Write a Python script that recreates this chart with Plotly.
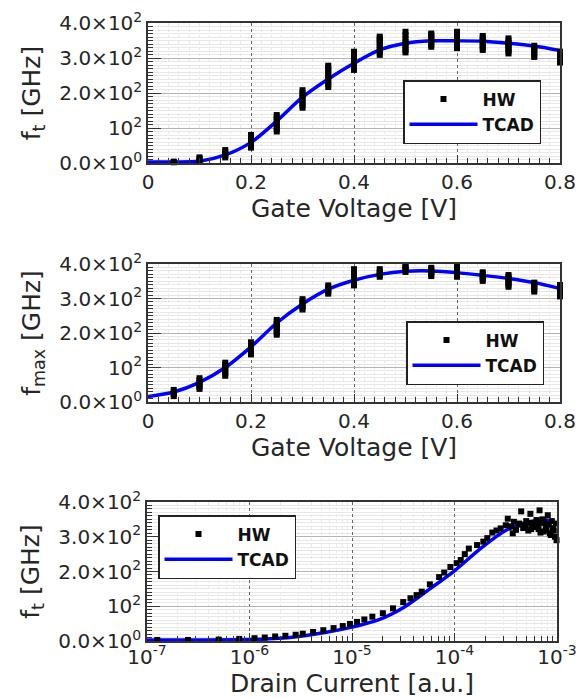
import plotly.graph_objects as go

# ---------------- data ----------------
# Panel 1: f_t vs gate voltage
VG = [0.0, 0.05, 0.1, 0.15, 0.2, 0.25, 0.3, 0.35, 0.4, 0.45, 0.5, 0.55, 0.6, 0.65, 0.7, 0.75, 0.8]
FT_TCAD = [3, 3, 5, 23, 59, 120, 188, 240, 285, 323, 342, 349, 349, 348, 342, 334, 321]
HW_VG = [0.05, 0.1, 0.15, 0.2, 0.25, 0.3, 0.35, 0.4, 0.45, 0.5, 0.55, 0.6, 0.65, 0.7, 0.75, 0.8]
FT_HW = [
    [2, 4],
    [4, 8, 12, 16],
    [16, 21, 26, 31, 37],
    [44, 50, 56, 62, 68, 74, 80],
    [90, 97, 104, 111, 118, 125, 131, 137],
    [158, 165, 172, 179, 186, 193, 200, 208],
    [217, 225, 233, 241, 249, 257, 265, 272, 278],
    [266, 273, 280, 287, 294, 301, 308, 313, 318],
    [309, 316, 323, 330, 337, 344, 351, 356, 361],
    [316, 323, 331, 338, 346, 355, 366, 375],
    [332, 338, 344, 350, 356, 362, 366, 370],
    [328, 334, 340, 346, 352, 358, 364, 375],
    [323, 329, 335, 341, 347, 353, 358, 363],
    [313, 319, 325, 331, 337, 343, 349, 356],
    [303, 309, 315, 321, 327, 331, 335],
    [287, 293, 299, 305, 311, 315, 318],
]

# Panel 2: f_max vs gate voltage
FMAX_TCAD = [16, 29, 57, 100, 160, 229, 284, 327, 353, 370, 379, 380, 375, 367, 358, 346, 329]
FMAX_HW = [
    [17, 23, 29, 35],
    [38, 44, 50, 56, 63, 69],
    [76, 82, 88, 95, 101, 108, 114],
    [138, 144, 150, 156, 162, 168, 173],
    [195, 201, 207, 213, 219, 225, 232, 238],
    [268, 274, 280, 286, 292, 298],
    [314, 320, 326, 332, 338],
    [338, 344, 350, 356, 362, 368, 374, 385],
    [363, 368, 373, 378, 385],
    [377, 382, 387, 392, 397],
    [365, 370, 375, 380, 385, 389],
    [363, 369, 375, 381, 387, 392, 397],
    [351, 356, 361, 366, 371, 376],
    [334, 340, 346, 352, 358, 363, 368],
    [320, 326, 332, 338, 343, 346],
    [306, 312, 318, 324, 330, 335, 339],
]

# Panel 3: f_t vs drain current
ID_TCAD = [1e-7, 3.16e-7, 1e-6, 1.78e-6, 3.16e-6, 5.62e-6, 1e-5, 1.78e-5, 3.16e-5,
           5.62e-5, 1e-4, 1.78e-4, 3.16e-4, 5.62e-4, 7.94e-4, 1e-3]
FT_ID_TCAD = [3, 3, 4, 7, 14, 25, 40, 60, 96, 148, 202, 265, 318, 344, 348, 335]
ID_HW = [1.26e-7, 2.51e-7, 5.01e-7, 7.94e-7, 1.12e-6, 1.41e-6, 1.78e-6, 2.24e-6, 2.82e-6,
         3.31e-6, 4.17e-6, 5.25e-6, 6.61e-6, 8.13e-6, 9.55e-6, 1.12e-5, 1.32e-5, 1.58e-5,
         2.0e-5, 2.51e-5, 3.16e-5, 3.72e-5, 4.27e-5, 4.79e-5, 5.75e-5, 7.08e-5, 7.94e-5,
         9.12e-5, 1.05e-4, 1.15e-4, 1.26e-4, 1.38e-4, 1.66e-4, 1.91e-4, 2.09e-4, 2.34e-4,
         2.57e-4, 2.82e-4, 3.16e-4, 3.31e-4, 3.55e-4, 3.80e-4, 3.98e-4, 4.27e-4, 4.47e-4,
         4.68e-4, 5.01e-4, 5.25e-4, 5.50e-4, 5.75e-4, 6.03e-4, 6.31e-4, 6.61e-4, 6.76e-4,
         7.08e-4, 7.41e-4, 7.76e-4, 8.13e-4, 8.51e-4, 8.91e-4, 9.12e-4, 9.55e-4, 9.77e-4,
         1.0e-3, 4.9e-4, 5.6e-4, 6.2e-4, 6.9e-4, 7.2e-4, 7.9e-4, 8.3e-4, 8.7e-4, 9.3e-4,
         9.9e-4, 3.7e-4, 4.4e-4, 5.4e-4, 6.5e-4, 7.5e-4]
FT_ID_HW = [3, 3, 4, 6, 8, 10, 13, 15, 18,
            21, 26, 31, 37, 43, 49, 55, 62, 70,
            80, 94, 112, 123, 132, 142, 163, 184, 197,
            213, 224, 233, 250, 266, 276, 286, 296, 312,
            318, 324, 333, 352, 330, 343, 320, 338, 373,
            325, 345, 318, 366, 335, 328, 348, 322, 376,
            340, 315, 330, 362, 310, 345, 325, 300, 338,
            295, 330, 322, 340, 312, 350, 320, 335, 305, 318,
            290, 310, 335, 340, 332, 342]

Y_TICKS = [0, 100, 200, 300, 400]
Y_TICKTEXT = ["0.0×10<sup>0</sup>", "10<sup>2</sup>", "2.0×10<sup>2</sup>",
              "3.0×10<sup>2</sup>", "4.0×10<sup>2</sup>"]
VG_TICKS = [0, 0.2, 0.4, 0.6, 0.8]
VG_TICKTEXT = ["0", "0.2", "0.4", "0.6", "0.8"]
ID_TICKS = [1e-7, 1e-6, 1e-5, 1e-4, 1e-3]
ID_TICKTEXT = ["10<sup>-7</sup>", "10<sup>-6</sup>", "10<sup>-5</sup>",
               "10<sup>-4</sup>", "10<sup>-3</sup>"]

# ---------------- figure ----------------
W, H = 577, 698
FONT = "DejaVu Sans"
TXT = "#262626"
AX = "#333333"
BLUE = "#0000ff"
TICK_SIZE = 20
TITLE_SIZE = 25


def flat(xs, groups):
    fx, fy = [], []
    for x, g in zip(xs, groups):
        for v in g:
            fx.append(x)
            fy.append(v)
    return fx, fy


fig = go.Figure()


def add_panel(n, xt, yt, xh, yh):
    sfx = "" if n == 1 else str(n)
    leg = "legend" if n == 1 else "legend" + str(n)
    fig.add_trace(go.Scatter(x=xt, y=yt, mode="lines", name="<b>TCAD</b>",
                             line=dict(color=BLUE, width=3.5, shape="spline", smoothing=0.8),
                             xaxis="x" + sfx, yaxis="y" + sfx, legend=leg, legendrank=2,
                             legendgroup="t%d" % n))
    fig.add_trace(go.Scatter(x=xh, y=yh, mode="markers", name="<b>HW</b>",
                             marker=dict(symbol="square", size=6, color="black", line=dict(width=0)),
                             xaxis="x" + sfx, yaxis="y" + sfx, legend=leg, legendrank=1,
                             legendgroup="h%d" % n, cliponaxis=False))


x1, y1 = flat(HW_VG, FT_HW)
x2, y2 = flat(HW_VG, FMAX_HW)
add_panel(1, VG, FT_TCAD, x1, y1)
add_panel(2, VG, FMAX_TCAD, x2, y2)
add_panel(3, ID_TCAD, FT_ID_TCAD, ID_HW, FT_ID_HW)


def px_dom_x(a, b):
    return [a / W, b / W]


def px_dom_y(top, bot):
    return [1 - bot / H, 1 - top / H]


def yaxis(dom, title):
    return dict(domain=dom, range=[0, 400], tickmode="array", tickvals=Y_TICKS, ticktext=Y_TICKTEXT,
                ticks="inside", ticklen=13, tickwidth=1.3, tickcolor=AX,
                showline=True, linecolor=AX, linewidth=1.5, mirror=True,
                showgrid=True, gridcolor="#b4b4b4", gridwidth=1, zeroline=False,
                minor=dict(dtick=10, tick0=0, ticks="inside", ticklen=5, tickwidth=1, tickcolor=AX,
                           showgrid=True, gridcolor="#e8e8e8", gridwidth=1),
                tickfont=dict(family=FONT, size=TICK_SIZE, color=TXT),
                title=dict(text=title, font=dict(family=FONT, size=TITLE_SIZE, color=TXT), standoff=12),
                automargin=False, fixedrange=True)


def xaxis_lin(dom, anchor):
    return dict(domain=dom, anchor=anchor, range=[0, 0.8], tickmode="array", tickvals=VG_TICKS,
                ticktext=VG_TICKTEXT, ticks="inside", ticklen=8, tickwidth=1.3, tickcolor=AX,
                showline=True, linecolor=AX, linewidth=1.5, mirror=True,
                showgrid=True, gridcolor="#666666", griddash="dot", gridwidth=1, zeroline=False,
                minor=dict(dtick=0.02, tick0=0, ticks="inside", ticklen=5, tickwidth=1, tickcolor=AX,
                           showgrid=True, gridcolor="#e8e8e8", gridwidth=1),
                tickfont=dict(family=FONT, size=TICK_SIZE, color=TXT),
                title=dict(text="Gate Voltage [V]", font=dict(family=FONT, size=TITLE_SIZE, color=TXT),
                           standoff=0),
                automargin=False, fixedrange=True)


MINOR_LOG = [m * 10.0 ** e for e in range(-7, -3) for m in range(2, 10)]

fig.update_layout(
    width=W, height=H, autosize=False,
    margin=dict(l=0, r=0, t=0, b=0),
    paper_bgcolor="white", plot_bgcolor="white",
    font=dict(family=FONT, color=TXT),
    xaxis=xaxis_lin(px_dom_x(148, 560), "y"),
    yaxis=dict(yaxis(px_dom_y(23, 163), "f<sub>t</sub> [GHz]"), anchor="x"),
    xaxis2=xaxis_lin(px_dom_x(148, 560), "y2"),
    yaxis2=dict(yaxis(px_dom_y(264, 402), "f<sub>max</sub> [GHz]"), anchor="x2"),
    xaxis3=dict(domain=px_dom_x(147, 557), anchor="y3", type="log", range=[-7, -3],
                tickmode="array", tickvals=ID_TICKS, ticktext=ID_TICKTEXT,
                ticks="inside", ticklen=8, tickwidth=1.3, tickcolor=AX,
                showline=True, linecolor=AX, linewidth=1.5, mirror=True,
                showgrid=True, gridcolor="#666666", griddash="dot", gridwidth=1, zeroline=False,
                minor=dict(tickmode="array", tickvals=MINOR_LOG, ticks="inside", ticklen=5, tickwidth=1,
                           tickcolor=AX, showgrid=True, gridcolor="#e8e8e8", gridwidth=1),
                tickfont=dict(family=FONT, size=TICK_SIZE, color=TXT), ticklabelstandoff=-3,
                title=dict(text="Drain Current [a.u.]", font=dict(family=FONT, size=TITLE_SIZE, color=TXT),
                           standoff=2),
                automargin=False, fixedrange=True),
    yaxis3=dict(yaxis(px_dom_y(502, 641), "f<sub>t</sub> [GHz]"), anchor="x3"),
)


def legend_cfg(x, y):
    return dict(x=x / W, y=1 - y / H, xanchor="left", yanchor="top", bgcolor="white",
                bordercolor="#222222", borderwidth=1.5, traceorder="normal",
                font=dict(family=FONT, size=17, color="#111111"),
                itemwidth=68, tracegroupgap=10, itemclick=False, itemdoubleclick=False)


fig.update_layout(legend=legend_cfg(403, 80), legend2=legend_cfg(406, 321),
                  legend3=legend_cfg(158, 515), showlegend=True)

fig.write_html("out.html", config={"displayModeBar": False},
               post_script="document.body.style.margin='0';document.body.style.overflow='hidden';")
